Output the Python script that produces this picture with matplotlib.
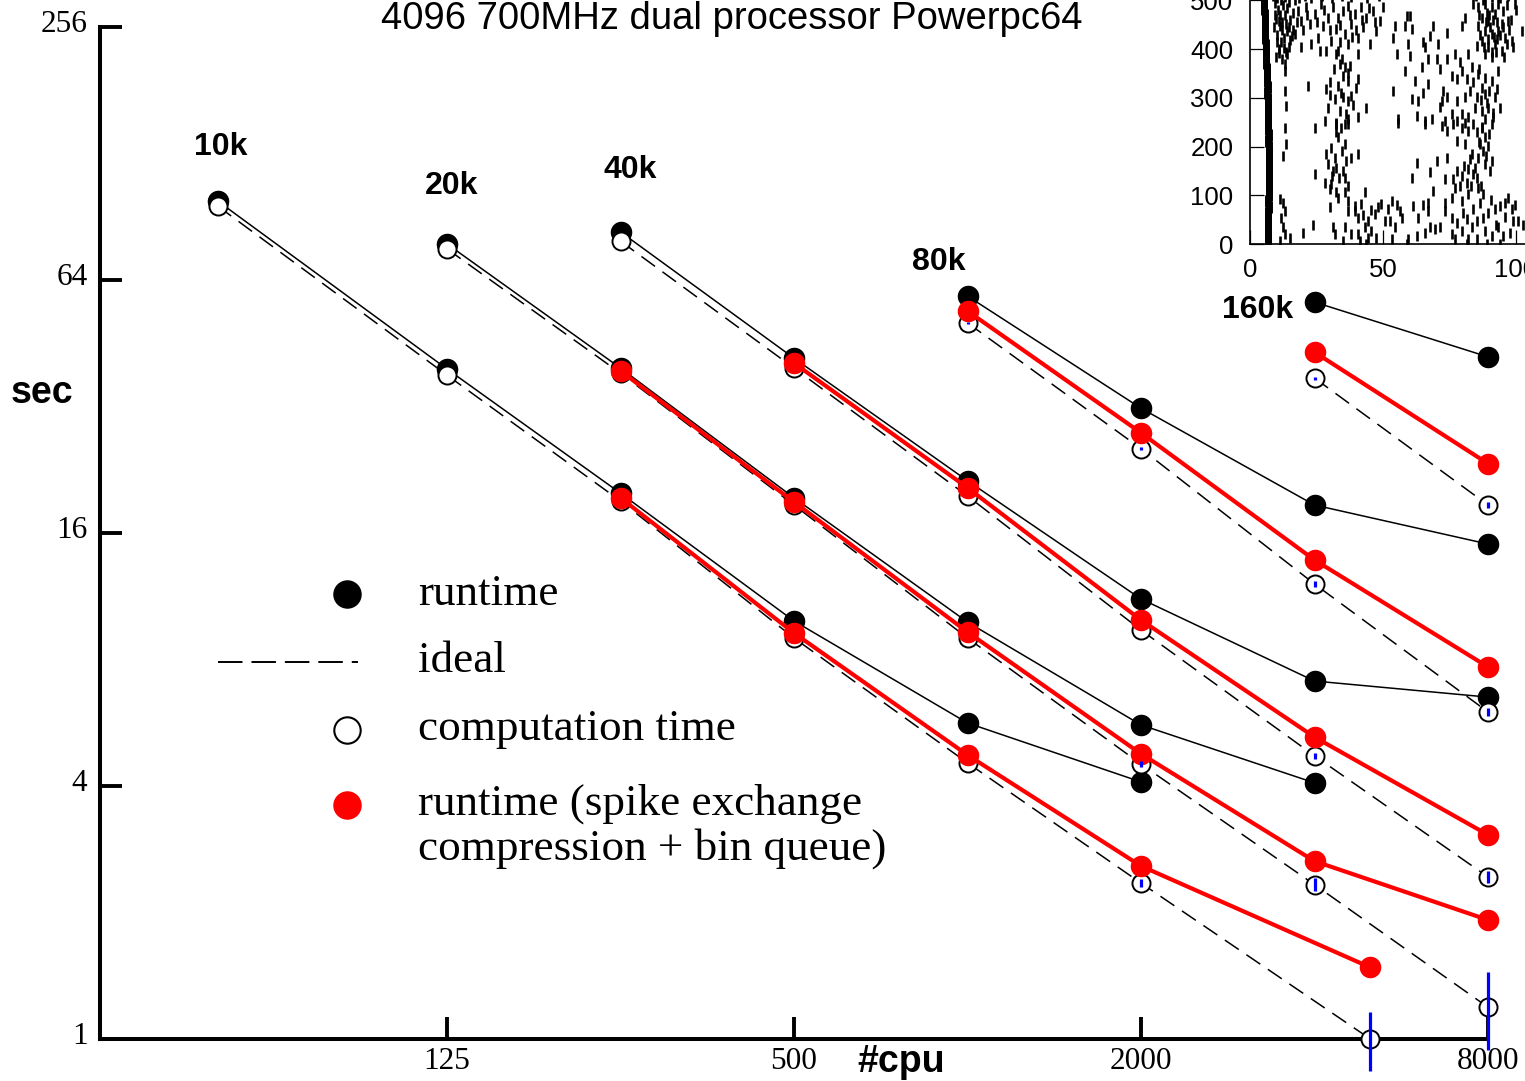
import matplotlib.pyplot as plt
import matplotlib.transforms as mtransforms
from matplotlib.lines import Line2D

plt.rcParams['font.family'] = ['Liberation Serif', 'DejaVu Serif']

# ---- scaling data (sec vs #cpu) ----
cpu_10k = [50, 125, 250, 500, 1000, 2000]
run_10k = [98.7, 39.3, 19.9, 9.88, 5.65, 4.09]
comp_cpu_10k = [50, 125, 250, 500, 1000, 2000, 5000]
comp_10k = [96.0, 38.0, 19.07, 9.00, 4.54, 2.35, 1.0]
comp_err_10k = [0, 0, 0, 0, 0, 0.05, 0.16]
red_cpu_10k = [250, 500, 1000, 2000, 5000]
red_10k = [19.4, 9.25, 4.74, 2.58, 1.48]

cpu_20k = [125, 250, 500, 1000, 2000, 4000]
run_20k = [78.0, 39.5, 19.4, 9.82, 5.59, 4.07]
comp_cpu_20k = [125, 250, 500, 1000, 2000, 4000, 8000]
comp_20k = [75.9, 38.4, 18.65, 9.00, 4.51, 2.33, 1.19]
comp_err_20k = [0, 0, 0, 0, 0.07, 0.08, 0.25]
red_cpu_20k = [250, 500, 1000, 2000, 4000, 8000]
red_20k = [38.9, 18.97, 9.30, 4.77, 2.65, 1.92]

cpu_40k = [250, 500, 1000, 2000, 4000, 8000]
run_40k = [83.3, 41.7, 21.3, 11.15, 7.11, 6.51]
comp_cpu_40k = [250, 500, 1000, 2000, 4000, 8000]
comp_40k = [79.2, 39.5, 19.6, 9.40, 4.72, 2.43]
comp_err_40k = [0, 0, 0, 0, 0.07, 0.08]
red_cpu_40k = [500, 1000, 2000, 4000, 8000]
red_40k = [40.6, 20.5, 9.93, 5.23, 3.06]

cpu_80k = [1000, 2000, 4000, 8000]
run_80k = [58.6, 31.7, 18.65, 15.06]
comp_cpu_80k = [1000, 2000, 4000, 8000]
comp_80k = [50.6, 25.4, 12.1, 6.00]
comp_err_80k = [0.2, 0.25, 0.2, 0.13]
red_cpu_80k = [1000, 2000, 4000, 8000]
red_80k = [54.0, 27.7, 13.8, 7.68]

cpu_160k = [4000, 8000]
run_160k = [56.7, 42.0]
comp_cpu_160k = [4000, 8000]
comp_160k = [37.4, 18.65]
comp_err_160k = [0.3, 0.3]
red_cpu_160k = [4000, 8000]
red_160k = [43.1, 23.4]

x_ticks = [125, 500, 2000, 8000]
y_ticks = [1, 4, 16, 64, 256]

# ---- raster inset: (time, cell) of spikes ----
band_cell = [3, 15, 27, 39, 52, 64, 76, 89, 101, 113, 126, 138, 150, 163,
             175, 187, 200, 212, 224, 237, 249, 261, 274, 286, 298, 311,
             323, 335, 348, 360, 372, 385, 397, 409, 422, 434, 446, 459,
             471, 483, 496, 508, 519]
band_t = [6.7, 6.6, 6.8, 6.6, 6.9, 6.7, 7.0, 6.9, 7.1, 7.0, 7.2, 7.1, 7.0,
          7.2, 7.1, 7.0, 7.1, 6.9, 7.0, 6.8, 6.9, 6.7, 6.8, 6.6, 6.7, 6.5,
          6.6, 6.4, 6.3, 6.4, 6.2, 6.1, 6.0, 5.9, 5.8, 5.7, 5.6, 5.5, 5.5,
          5.4, 5.3, 5.3, 5.2]

spikes_early = [
    (9.5, 495), (10.5, 480), (9.8, 462), (11.2, 447), (10.2, 430), (11.8, 415),
    (10.8, 400), (12.5, 490), (13.2, 470), (12.0, 455), (13.8, 438), (12.8, 422),
    (14.5, 405), (14.0, 485), (15.2, 460), (14.8, 445), (15.8, 428), (11.0, 392),
    (13.5, 395), (16.0, 475), (9.2, 445), (10.0, 415), (18.0, 479), (19.3, 458),
    (16.8, 431), (21.2, 486), (22.4, 452), (24.3, 472), (25.6, 424), (26.8, 493),
    (27.4, 448), (29.3, 465), (30.6, 417), (31.2, 486), (32.5, 441), (33.1, 465),
    (35.0, 479), (35.6, 431), (36.8, 489), (38.1, 452), (39.3, 472), (40.6, 424),
    (41.9, 486), (42.5, 445), (43.7, 465), (45.0, 410), (46.2, 479), (47.5, 438),
    (48.7, 458), (50.0, 486), (19.3, 404), (23.1, 410), (26.2, 397), (28.7, 397),
    (33.1, 397), (36.8, 410), (40.6, 390),
    (13.0, 369), (13.0, 356), (13.0, 315), (13.7, 284), (13.0, 239), (13.7, 205),
    (12.4, 181), (11.2, 92), (12.4, 85), (13.0, 68), (11.8, 54), (12.4, 34),
    (13.0, 20), (11.2, 6), (14.9, 13), (19.9, 23), (23.7, 40), (21.8, 325),
    (24.3, 239), (24.3, 143),
]

spikes_mid = [
    (32.5, 390), (33.7, 369), (35.6, 363), (35.0, 345), (36.8, 352), (29.9, 332),
    (33.1, 325), (28.7, 318), (36.8, 335), (40.6, 339), (40.0, 321), (35.0, 301),
    (36.8, 294), (38.1, 304), (31.8, 297), (29.3, 280), (33.7, 273), (36.2, 267),
    (36.8, 256), (40.6, 260), (43.7, 280), (28.1, 253), (32.5, 249), (35.6, 246),
    (32.5, 246), (34.3, 239), (36.8, 246), (33.1, 219), (35.6, 205), (30.6, 198),
    (28.7, 184), (31.8, 177), (29.3, 164), (32.5, 157), (31.2, 150), (35.0, 150),
    (35.6, 136), (38.1, 177), (40.6, 184), (28.1, 126), (29.9, 112), (32.5, 106),
    (35.6, 106), (30.6, 123), (36.8, 88), (39.3, 78), (43.1, 106), (33.1, 95),
    (29.9, 75), (39.3, 68), (40.6, 54), (41.9, 82), (43.1, 34), (44.4, 47),
    (45.6, 27), (46.9, 61), (48.1, 75), (49.4, 82), (50.6, 47), (44.4, 13),
    (41.2, 6), (43.7, 0), (47.5, 13), (36.8, 68), (35.6, 34), (38.1, 20),
    (31.8, 20), (31.2, 34), (35.0, 6),
]

spikes_late = [
    (84.0, 493), (85.8, 486), (88.3, 493), (90.8, 486), (93.4, 493), (95.2, 479),
    (87.1, 465), (89.6, 458), (92.1, 472), (94.6, 452), (88.3, 438), (90.8, 431),
    (93.4, 438), (95.9, 424), (87.1, 417), (89.6, 404), (92.1, 410), (94.6, 397),
    (88.3, 390), (98.4, 417), (99.0, 404), (102.1, 438), (99.6, 493), (97.1, 458),
    (90.8, 383), (85.8, 448), (87.5, 500), (91.5, 460), (96.5, 490), (89.0, 475),
    (93.0, 420), (95.0, 445), (91.0, 395), (86.5, 430),
    (54.5, 448), (53.9, 424), (58.9, 469), (58.3, 448), (60.1, 469), (60.8, 441),
    (55.1, 390), (59.5, 410), (60.1, 386), (65.2, 414), (65.8, 404), (67.7, 428),
    (68.9, 448), (70.8, 410), (71.4, 359), (73.9, 434), (67.0, 380), (64.5, 363),
    (58.3, 356), (70.2, 380), (73.9, 380), (77.1, 390), (78.9, 373), (79.6, 448),
    (80.8, 465), (82.1, 390), (83.3, 363), (85.2, 407), (79.6, 356), (81.4, 339),
    (84.0, 332), (85.8, 349), (77.7, 339), (75.8, 345), (62.0, 335), (67.0, 328),
    (65.2, 311), (60.8, 297), (63.3, 294), (53.9, 315), (72.7, 315), (73.9, 301),
    (71.4, 281), (72.1, 294), (77.7, 294), (80.8, 301), (82.7, 315), (85.2, 301),
    (87.1, 321), (88.3, 308), (90.8, 335), (92.7, 318), (93.4, 356), (92.1, 301),
    (89.6, 280), (87.1, 273), (84.6, 280), (82.1, 260), (79.6, 267), (77.7, 253),
    (75.8, 267), (73.3, 253), (68.3, 256), (65.8, 253), (62.7, 263), (55.8, 256),
    (88.3, 256), (91.5, 270), (94.0, 280),
    (55.8, 249), (65.8, 246), (72.1, 243), (73.9, 232), (76.4, 246), (79.6, 239),
    (82.1, 232), (84.0, 246), (85.2, 229), (87.1, 239), (88.3, 219), (90.8, 246),
    (86.5, 205), (87.7, 191), (89.6, 201), (85.8, 177), (88.3, 164), (84.6, 157),
    (82.1, 153), (80.8, 205), (77.7, 212), (76.4, 133), (77.7, 150), (79.6, 140),
    (79.0, 119), (81.4, 126), (77.1, 116), (73.9, 177), (70.2, 171), (67.7, 147),
    (62.7, 167), (60.8, 136), (73.3, 133), (68.9, 109), (83.3, 184), (90.8, 171),
    (84.0, 143), (85.8, 116), (87.7, 102), (86.5, 85), (84.0, 71), (82.1, 102),
    (79.6, 88), (75.8, 95), (73.3, 85), (67.0, 85), (65.2, 81), (61.4, 78),
    (55.1, 81), (53.3, 88), (52.0, 71), (56.4, 68), (57.0, 54), (52.6, 47),
    (54.5, 34), (63.3, 54), (67.0, 68), (73.3, 68), (75.8, 54), (77.7, 44),
    (80.2, 64), (81.4, 51), (83.3, 34), (85.2, 47), (87.7, 54), (89.6, 64),
    (92.1, 71), (94.0, 78), (95.9, 85), (98.4, 71), (100.9, 47), (102.8, 40),
    (88.3, 27), (90.8, 16), (93.4, 34), (95.2, 16), (97.7, 23), (99.0, 47),
    (75.8, 20), (77.1, 10), (79.6, 27), (82.1, 10), (85.2, 10), (71.4, 34),
    (69.5, 30), (67.7, 34), (65.8, 23), (62.7, 16), (59.5, 10), (58.9, 0),
    (53.3, 10), (81.4, 0), (89.0, 0), (94.0, 0), (80.8, 249),
]

spikes_dense = [
    (8.8, 510), (10.2, 505), (11.6, 500), (13.0, 508), (14.6, 497), (9.4, 470),
    (10.9, 458), (12.2, 440), (13.6, 452), (15.0, 418), (16.3, 440), (9.9, 385),
    (12.0, 380), (14.0, 390), (11.4, 470), (12.9, 403), (17.0, 500), (18.5, 505),
    (20.5, 510), (23.0, 505), (27.0, 510), (31.0, 505), (34.5, 510), (38.0, 508),
    (44.0, 505), (48.5, 510), (17.5, 455), (20.0, 440), (21.5, 470), (25.0, 455),
    (28.0, 480), (30.0, 440), (34.0, 450), (37.5, 470), (39.8, 440), (42.0, 460),
    (44.8, 485), (47.0, 455), (38.5, 425), (34.0, 415),
    (85.0, 510), (88.0, 505), (91.0, 508), (94.0, 505), (97.0, 510), (86.2, 470),
    (88.8, 455), (90.2, 445), (92.8, 455), (94.0, 430), (96.5, 410), (97.5, 440),
    (89.5, 420), (91.8, 425), (95.5, 385), (98.0, 460), (100.0, 480), (92.5, 395),
    (87.8, 405), (90.0, 470),
    (34.5, 380), (37.5, 365), (31.5, 360), (30.2, 305), (34.2, 310), (38.8, 285),
    (32.2, 230), (34.5, 190), (36.0, 170), (33.5, 135), (30.8, 140), (37.0, 120),
    (86.0, 360), (88.5, 340), (90.0, 315), (86.8, 295), (89.0, 290), (91.5, 260),
    (87.2, 240), (89.8, 225), (86.0, 210), (88.8, 180), (90.2, 150), (85.5, 135),
    (83.0, 120), (80.5, 160), (82.8, 175), (86.8, 120),
    (40.5, 20), (42.5, 60), (45.5, 70), (90.5, 90), (92.5, 40), (96.0, 55),
    (97.0, 95), (99.5, 80),
]

W, H = 1525, 1081
fig = plt.figure(figsize=(W / 100, H / 100), dpi=100)
ax = fig.add_axes([100 / W, 1 - 1039 / H, 1388 / W, 1012 / H])
ax.set_xscale('log', base=2)
ax.set_yscale('log', base=2)
ax.set_xlim(31.25, 8000)
ax.set_ylim(1, 256)

groups = [
    (cpu_10k, run_10k, comp_cpu_10k, comp_10k, comp_err_10k, red_cpu_10k, red_10k),
    (cpu_20k, run_20k, comp_cpu_20k, comp_20k, comp_err_20k, red_cpu_20k, red_20k),
    (cpu_40k, run_40k, comp_cpu_40k, comp_40k, comp_err_40k, red_cpu_40k, red_40k),
    (cpu_80k, run_80k, comp_cpu_80k, comp_80k, comp_err_80k, red_cpu_80k, red_80k),
    (cpu_160k, run_160k, comp_cpu_160k, comp_160k, comp_err_160k, red_cpu_160k, red_160k),
]

for cpu, run, ccpu, comp, cerr, rcpu, red in groups:
    ax.plot(cpu, run, '-', color='black', lw=1.1, marker='o', ms=14.5,
            mfc='black', mec='black', zorder=3, clip_on=False)
    ax.plot(ccpu, comp, color='black', lw=1.1, ls=(0, (11, 6)), marker='o',
            ms=13, mfc='white', mec='black', mew=1.4, zorder=4, clip_on=False)
    ax.plot(rcpu, red, '-', color='red', lw=3, marker='o', ms=14.5,
            mfc='red', mec='red', zorder=5, clip_on=False)
    ex = [c for c, e in zip(ccpu, cerr) if e > 0]
    lo = [v - e for v, e in zip(comp, cerr) if e > 0]
    hi = [v + e for v, e in zip(comp, cerr) if e > 0]
    ax.vlines(ex, lo, hi, colors='blue', lw=2.3, zorder=6, clip_on=False)

for s in ['top', 'right']:
    ax.spines[s].set_visible(False)
for s in ['left', 'bottom']:
    ax.spines[s].set_linewidth(2.9)

ax.set_xticks(x_ticks, [str(v) for v in x_ticks])
ax.set_yticks(y_ticks, [str(v) for v in y_ticks])
ax.minorticks_off()
ax.tick_params(direction='in', length=16, width=2.8, labelsize=22.5)
ax.tick_params(axis='x', pad=6)
ax.tick_params(axis='y', pad=9)
# tick labels on the y axis sit a little above their ticks in the original
up = mtransforms.ScaledTranslation(0, 6 / 100, fig.dpi_scale_trans)
for lab in ax.get_yticklabels():
    lab.set_transform(lab.get_transform() + up)

sans = ['Liberation Sans', 'DejaVu Sans']
fig.text(732 / W, 1 - 19 / H, '4096 700MHz dual processor Powerpc64',
         family=sans, fontsize=27.5, ha='center', va='center')
fig.text(42 / W, 1 - 393 / H, 'sec', family=sans, fontsize=27,
         fontweight='bold', ha='center', va='center')
fig.text(901 / W, 1 - 1062 / H, '#cpu', family=sans, fontsize=27,
         fontweight='bold', ha='center', va='center')
for lab, px, py in [('10k', 221, 147), ('20k', 452, 186), ('40k', 630, 170),
                    ('80k', 939, 262), ('160k', 1258, 310)]:
    fig.text(px / W, 1 - py / H, lab, family=sans, fontsize=23,
             fontweight='bold', ha='center', va='center')

# legend, drawn by hand
fig.add_artist(Line2D([347 / W], [1 - 594 / H], marker='o', ms=19.5,
                      mfc='black', mec='black', ls='none'))
fig.add_artist(Line2D([218 / W, 358 / W], [1 - 662 / H, 1 - 662 / H],
                      color='black', lw=1.4, ls=(0, (12.6, 4.6))))
fig.add_artist(Line2D([347 / W], [1 - 730 / H], marker='o', ms=19,
                      mfc='white', mec='black', mew=1.5, ls='none'))
fig.add_artist(Line2D([347 / W], [1 - 805 / H], marker='o', ms=19.5,
                      mfc='red', mec='red', ls='none'))
for txt, py in [('runtime', 605), ('ideal', 672), ('computation time', 740),
                ('runtime (spike exchange', 815),
                ('compression + bin queue)', 860)]:
    fig.text(418 / W, 1 - py / H, txt, fontsize=32.5, ha='left', va='baseline')

# raster inset (partly outside the figure, as in the original)
axi = fig.add_axes([1250 / W, 1 - 244 / H, 110 * 2.66 / W, 520 * 0.487 / H])
axi.set_xlim(0, 110)
axi.set_ylim(0, 520)
axi.plot(band_t, band_cell, '|', color='black', ms=8, mew=5)
for group in [spikes_early, spikes_mid, spikes_late, spikes_dense]:
    axi.plot([p[0] for p in group], [p[1] for p in group], '|',
             color='black', ms=7, mew=1.9)
axi.set_xticks([0, 50, 100])
axi.set_yticks([0, 100, 200, 300, 400, 500])
axi.tick_params(direction='in', length=10, width=0.9, labelsize=18.5,
                labelfontfamily='Liberation Sans')
axi.tick_params(axis='x', pad=10)
axi.tick_params(axis='y', pad=12)
for s in axi.spines.values():
    s.set_linewidth(1.2)

fig.savefig('out.png', dpi=100)
